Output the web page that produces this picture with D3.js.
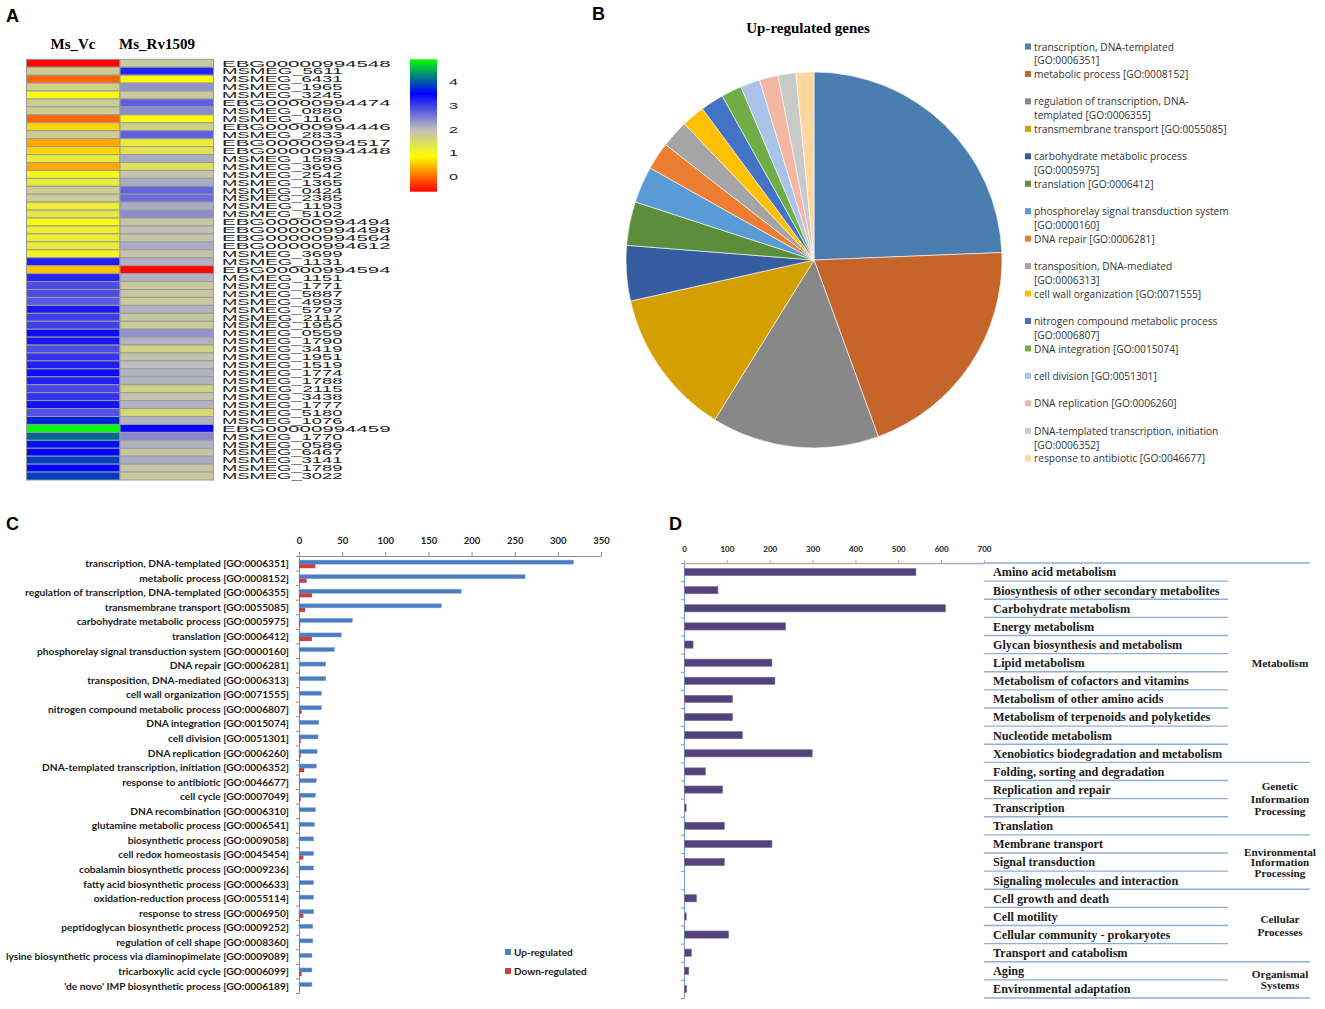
<!DOCTYPE html>
<html>
<head>
<meta charset="utf-8">
<script src="https://cdn.jsdelivr.net/npm/d3@7"></script>
<style>
  body { margin: 0; background: #fff; }
  svg { display: block; }
</style>
</head>
<body>
<div id="figure"></div>
<script>
// ---- Panel A: heatmap data ----
var geneIds = ["EBG00000994548","MSMEG_5611","MSMEG_6431","MSMEG_1965","MSMEG_3245","EBG00000994474","MSMEG_0880",
  "MSMEG_1166","EBG00000994446","MSMEG_2833","EBG00000994517","EBG00000994448","MSMEG_1583","MSMEG_3696","MSMEG_2542",
  "MSMEG_1365","MSMEG_0424","MSMEG_2385","MSMEG_1193","MSMEG_5102","EBG00000994494","EBG00000994498","EBG00000994564",
  "EBG00000994612","MSMEG_3699","MSMEG_1131","EBG00000994594","MSMEG_1151","MSMEG_1771","MSMEG_5887","MSMEG_4993",
  "MSMEG_5797","MSMEG_2112","MSMEG_1950","MSMEG_0559","MSMEG_1790","MSMEG_3419","MSMEG_1951","MSMEG_1519","MSMEG_1774",
  "MSMEG_1788","MSMEG_2115","MSMEG_3438","MSMEG_1777","MSMEG_5180","MSMEG_1076","EBG00000994459","MSMEG_1770",
  "MSMEG_0586","MSMEG_6467","MSMEG_3141","MSMEG_1789","MSMEG_3022"];
var msVc = [-0.6,1.75,-0.05,1.65,0.95,1.75,1.75,-0.05,0.6,1.75,0.35,0.6,1.2,0.35,1.0,1.2,1.75,1.75,1.15,1.3,0.95,1.15,1.15,
  1.2,1.05,3.25,0.5,3.2,2.9,2.9,2.8,3.3,3.0,3.0,3.4,3.3,2.9,3.1,3.25,3.4,3.25,2.95,3.1,3.35,2.85,3.7,4.95,4.1,3.6,3.5,3.85,3.45,3.85];
var msRv1509 = [1.8,3.2,0.9,2.35,1.8,2.75,2.4,0.95,1.7,2.75,1.2,1.35,2.15,1.4,1.9,2.15,2.7,2.65,2.15,2.4,1.85,1.95,1.9,
  2.15,1.9,2.1,-0.6,2.1,1.8,1.85,1.8,2.1,1.85,1.75,2.35,2.1,1.65,1.9,2.0,2.1,2.1,1.65,1.9,2.1,1.55,2.1,3.45,2.45,2.1,1.85,2.15,1.85,1.8];
var heatColumns = ["Ms_Vc", "Ms_Rv1509"];
var heatTicks = [0, 1, 2, 3, 4];

// ---- Panel C (and B): GO terms ----
var goTerms = ["transcription, DNA-templated [GO:0006351]","metabolic process [GO:0008152]",
  "regulation of transcription, DNA-templated [GO:0006355]","transmembrane transport [GO:0055085]",
  "carbohydrate metabolic process [GO:0005975]","translation [GO:0006412]",
  "phosphorelay signal transduction system [GO:0000160]","DNA repair [GO:0006281]",
  "transposition, DNA-mediated [GO:0006313]","cell wall organization [GO:0071555]",
  "nitrogen compound metabolic process [GO:0006807]","DNA integration [GO:0015074]","cell division [GO:0051301]",
  "DNA replication [GO:0006260]","DNA-templated transcription, initiation [GO:0006352]",
  "response to antibiotic [GO:0046677]","cell cycle [GO:0007049]","DNA recombination [GO:0006310]",
  "glutamine metabolic process [GO:0006541]","biosynthetic process [GO:0009058]","cell redox homeostasis [GO:0045454]",
  "cobalamin biosynthetic process [GO:0009236]","fatty acid biosynthetic process [GO:0006633]",
  "oxidation-reduction process [GO:0055114]","response to stress [GO:0006950]",
  "peptidoglycan biosynthetic process [GO:0009252]","regulation of cell shape [GO:0008360]",
  "lysine biosynthetic process via diaminopimelate [GO:0009089]","tricarboxylic acid cycle [GO:0006099]",
  "'de novo' IMP biosynthetic process [GO:0006189]"];
var upRegulated = [318,262,188,165,62,49,41,31,31,26,26,23,22,21,20,20,19,19,18,17,17,17,17,17,17,16,16,15,15,15];
var downRegulated = [19,9,15,7,1.5,15,0,0,0,0,3,0,2,2,6,1,2,0,1,0,5,1,1,0,5,0,1,0,3,1];
var pieCount = 16;

// ---- Panel D: KEGG pathways ----
var keggPathways = ["Amino acid metabolism","Biosynthesis of other secondary metabolites","Carbohydrate metabolism",
  "Energy metabolism","Glycan biosynthesis and metabolism","Lipid metabolism","Metabolism of cofactors and vitamins",
  "Metabolism of other amino acids","Metabolism of terpenoids and polyketides","Nucleotide metabolism",
  "Xenobiotics biodegradation and metabolism","Folding, sorting and degradation","Replication and repair",
  "Transcription","Translation","Membrane transport","Signal transduction","Signaling molecules and interaction",
  "Cell growth and death","Cell motility","Cellular community - prokaryotes","Transport and catabolism","Aging",
  "Environmental adaptation"];
var keggCounts = [540,78,609,236,20,204,211,112,112,135,298,49,89,4,93,204,93,0,28,4,103,16,10,5];
var keggGroups = ["Metabolism","Genetic Information Processing","Environmental Information Processing",
  "Cellular Processes","Organismal Systems"];
var keggGroupSizes = [11, 4, 3, 4, 2];

var pieColors = ["#4a7eb0","#c5652a","#888888","#d4a000","#355d9f","#5b8e3b","#5b9bd5","#ed7d31",
  "#a5a5a5","#ffc000","#4472c4","#70ad47","#a9c4e8","#f4b7a3","#c9c9c9","#ffd79e"];

var svg = d3.select("#figure")
  .append("svg")
  .attr("width", 1325)
  .attr("height", 1009);

// panel letters
[["A", 6, 22], ["B", 592, 20], ["C", 6, 530], ["D", 669, 530]].forEach(function(p) {
  svg.append("text")
    .attr("x", p[1]).attr("y", p[2])
    .attr("font-family", "Liberation Sans, Arial, sans-serif")
    .attr("font-weight", "bold")
    .attr("font-size", 18)
    .text(p[0]);
});

// ===================== Panel A =====================
var heatY = d3.scaleBand().domain(geneIds).range([59.3, 480]);
var heatX = d3.scaleBand().domain(heatColumns).range([26.5, 213.5]);
var heatColor = d3.scaleLinear()
  .domain([-0.63, 0.85, 2, 3.5, 4.95])
  .range(["#ff0000", "#ffff00", "#bebebe", "#0000ff", "#00ff00"])
  .clamp(true);

var panelA = svg.append("g");

// headers sit a little left of the column centres
var headerX = {"Ms_Vc": 73, "Ms_Rv1509": 157};
panelA.selectAll("text.colhead")
  .data(heatColumns)
  .enter()
  .append("text")
  .attr("class", "colhead")
  .attr("x", d => headerX[d])
  .attr("y", 49)
  .attr("text-anchor", "middle")
  .attr("font-family", "Liberation Serif, Times New Roman, serif")
  .attr("font-weight", "bold")
  .attr("font-size", 15)
  .text(d => d);

var cells = [];
geneIds.forEach(function(g, i) {
  cells.push({gene: g, col: "Ms_Vc", value: msVc[i]});
  cells.push({gene: g, col: "Ms_Rv1509", value: msRv1509[i]});
});

panelA.selectAll("rect.cell")
  .data(cells)
  .enter()
  .append("rect")
  .attr("class", "cell")
  .attr("x", d => heatX(d.col))
  .attr("y", d => heatY(d.gene))
  .attr("width", heatX.bandwidth())
  .attr("height", heatY.bandwidth())
  .attr("fill", d => heatColor(d.value))
  .attr("stroke", "#9a9a9a")
  .attr("stroke-width", 1);

panelA.selectAll("text.gene")
  .data(geneIds)
  .enter()
  .append("text")
  .attr("class", "gene")
  .attr("x", 222)
  .attr("y", d => heatY(d) + heatY.bandwidth() / 2)
  .attr("dy", "0.36em")
  .attr("font-family", "Liberation Sans, Arial, sans-serif")
  .attr("font-size", 9)
  .attr("fill", "#222")
  .attr("textLength", d => d.length * 12.05)
  .attr("lengthAdjust", "spacingAndGlyphs")
  .text(d => d);

// colour key
var cbScale = d3.scaleLinear().domain([-0.63, 4.95]).range([191.7, 59.3]);
var grad = svg.append("defs").append("linearGradient")
  .attr("id", "heatGrad")
  .attr("x1", 0).attr("y1", 1).attr("x2", 0).attr("y2", 0);
grad.selectAll("stop")
  .data(d3.range(0, 1.0001, 0.02))
  .enter()
  .append("stop")
  .attr("offset", d => d)
  .attr("stop-color", d => heatColor(-0.63 + d * (4.95 + 0.63)));

panelA.append("rect")
  .attr("x", 410)
  .attr("y", cbScale(4.95))
  .attr("width", 27)
  .attr("height", cbScale(-0.63) - cbScale(4.95))
  .attr("fill", "url(#heatGrad)");

panelA.selectAll("text.cbtick")
  .data(heatTicks)
  .enter()
  .append("text")
  .attr("class", "cbtick")
  .attr("x", 449)
  .attr("y", d => cbScale(d))
  .attr("dy", "0.36em")
  .attr("font-family", "Liberation Sans, Arial, sans-serif")
  .attr("font-size", 9)
  .attr("fill", "#222")
  .attr("textLength", 9)
  .attr("lengthAdjust", "spacingAndGlyphs")
  .text(d => d);

// ===================== Panel B =====================
var pieData = goTerms.slice(0, pieCount).map(function(t, i) {
  return {term: t, value: upRegulated[i]};
});
var pie = d3.pie().sort(null).value(d => d.value);
var arc = d3.arc().innerRadius(0).outerRadius(188);

svg.append("text")
  .attr("x", 808)
  .attr("y", 33)
  .attr("text-anchor", "middle")
  .attr("font-family", "Liberation Serif, Times New Roman, serif")
  .attr("font-weight", "bold")
  .attr("font-size", 15)
  .text("Up-regulated genes");

var pieGroup = svg.append("g")
  .attr("transform", "translate(814, 260)");

pieGroup.selectAll("path")
  .data(pie(pieData))
  .enter()
  .append("path")
  .attr("d", arc)
  .attr("fill", (d, i) => pieColors[i])
  .attr("stroke", "#fff")
  .attr("stroke-width", 0.6);

// legend with wrapped labels
var legendB = svg.append("g");
var legendFont = "Open Sans, Noto Sans, sans-serif";
var legendSize = 10.2;
var measure = svg.append("text")
  .attr("font-family", legendFont)
  .attr("font-size", legendSize)
  .attr("visibility", "hidden");

function wrapLabel(label, maxW) {
  var tokens = label.match(/[^ -]+-?/g);
  var lines = [];
  var line = "";
  tokens.forEach(function(tok) {
    var joined = line == "" ? tok : (line.slice(-1) == "-" ? line + tok : line + " " + tok);
    measure.text(joined);
    if (line != "" && measure.node().getComputedTextLength() > maxW) {
      lines.push(line);
      line = tok;
    } else {
      line = joined;
    }
  });
  lines.push(line);
  return lines;
}

pieData.forEach(function(d, i) {
  var y0 = 47 + i * 27.45;
  legendB.append("rect")
    .attr("x", 1025)
    .attr("y", y0 - 3.5)
    .attr("width", 6)
    .attr("height", 6)
    .attr("fill", pieColors[i]);
  var lines = wrapLabel(d.term, 196);
  lines.forEach(function(l, j) {
    legendB.append("text")
      .attr("x", 1034)
      .attr("y", y0 + j * 13.8)
      .attr("dy", "0.35em")
      .attr("font-family", legendFont)
      .attr("font-size", legendSize)
      .attr("fill", "#333")
      .text(l);
  });
});
measure.remove();

// ===================== Panel C =====================
var cX = d3.scaleLinear().domain([0, 350]).range([299, 601]);
var cY = d3.scaleBand().domain(goTerms).range([556, 993]);
var cBw = cY.bandwidth();
var panelC = svg.append("g");
var cFont = "Lato, Open Sans, sans-serif";

var topAxisC = panelC.append("g")
  .attr("transform", "translate(0, 556)")
  .call(d3.axisTop(cX).tickValues(d3.range(0, 351, 50)).tickSize(4).tickSizeOuter(0).tickPadding(8));
topAxisC.select(".domain").attr("stroke", "#8c8c8c");
topAxisC.selectAll(".tick line").attr("stroke", "#8c8c8c");
topAxisC.selectAll(".tick text")
  .attr("font-family", cFont)
  .attr("font-weight", "bold")
  .attr("font-size", 9.5)
  .attr("fill", "#222");

var cYLin = d3.scaleLinear().domain([0, goTerms.length]).range([556, 993]);
var leftAxisC = panelC.append("g")
  .attr("transform", "translate(299, 0)")
  .call(d3.axisLeft(cYLin).tickValues(d3.range(0, goTerms.length + 1)).tickFormat("").tickSize(3).tickSizeOuter(0));
leftAxisC.select(".domain").attr("stroke", "#8c8c8c");
leftAxisC.selectAll(".tick line").attr("stroke", "#8c8c8c");

panelC.selectAll("rect.up")
  .data(goTerms)
  .enter()
  .append("rect")
  .attr("class", "up")
  .attr("x", cX(0))
  .attr("y", d => cY(d) + cBw * 0.28)
  .attr("width", (d, i) => cX(upRegulated[i]) - cX(0))
  .attr("height", cBw * 0.28)
  .attr("fill", "#4a7ec0")
  .attr("stroke", "#7fa6d8")
  .attr("stroke-width", 0.5);

panelC.selectAll("rect.down")
  .data(goTerms)
  .enter()
  .append("rect")
  .attr("class", "down")
  .attr("x", cX(0))
  .attr("y", d => cY(d) + cBw * 0.56)
  .attr("width", (d, i) => cX(downRegulated[i]) - cX(0))
  .attr("height", cBw * 0.28)
  .attr("fill", "#c9403d");

panelC.selectAll("text.term")
  .data(goTerms)
  .enter()
  .append("text")
  .attr("class", "term")
  .attr("x", 289)
  .attr("y", d => cY(d) + cBw / 2)
  .attr("dy", "0.38em")
  .attr("text-anchor", "end")
  .attr("font-family", cFont)
  .attr("font-weight", "bold")
  .attr("font-size", 10.2)
  .attr("fill", "#1a1a1a")
  .text(d => d);

var legendC = [["Up-regulated", "#4a7ec0", 952], ["Down-regulated", "#c9403d", 971]];
legendC.forEach(function(l) {
  panelC.append("rect")
    .attr("x", 505).attr("y", l[2] - 3)
    .attr("width", 6).attr("height", 6)
    .attr("fill", l[1]);
  panelC.append("text")
    .attr("x", 514).attr("y", l[2])
    .attr("dy", "0.36em")
    .attr("font-family", cFont)
    .attr("font-weight", "bold")
    .attr("font-size", 10)
    .attr("fill", "#1a1a1a")
    .text(l[0]);
});

// ===================== Panel D =====================
var dX = d3.scaleLinear().domain([0, 700]).range([684, 984]);
var dY = d3.scaleBand().domain(keggPathways).range([563, 998]);
var dBw = dY.bandwidth();
var panelD = svg.append("g");
var lineBlue = "#8eaedb";
var dFont = "Liberation Serif, Times New Roman, serif";

var topAxisD = panelD.append("g")
  .attr("transform", "translate(0, 563)")
  .call(d3.axisTop(dX).tickValues(d3.range(0, 701, 100)).tickSize(3).tickSizeOuter(0).tickPadding(8));
topAxisD.select(".domain").attr("stroke", "#b0b0b0").attr("stroke-width", 1.5);
topAxisD.selectAll(".tick line").attr("stroke", "#b0b0b0");
topAxisD.selectAll(".tick text")
  .attr("font-family", cFont)
  .attr("font-weight", "bold")
  .attr("font-size", 8)
  .attr("fill", "#222");

var dYLin = d3.scaleLinear().domain([0, keggPathways.length]).range([563, 998]);
var leftAxisD = panelD.append("g")
  .attr("transform", "translate(684, 0)")
  .call(d3.axisLeft(dYLin).tickValues(d3.range(0, keggPathways.length + 1)).tickFormat("").tickSize(3).tickSizeOuter(0));
leftAxisD.select(".domain").attr("stroke", "#6d9bd6");
leftAxisD.selectAll(".tick line").attr("stroke", "#6d9bd6");

panelD.selectAll("rect.kegg")
  .data(keggPathways)
  .enter()
  .append("rect")
  .attr("class", "kegg")
  .attr("x", dX(0) + 0.5)
  .attr("y", d => dY(d) + dBw / 2 - 3.6)
  .attr("width", (d, i) => Math.max(0, dX(keggCounts[i]) - dX(0)))
  .attr("height", 7.2)
  .attr("fill", "#54437a")
  .attr("stroke", "#7d6fa0")
  .attr("stroke-width", 0.6);

// table rules: group boundaries span the group column too
var groupEdges = [0];
keggGroupSizes.forEach(function(n, i) { groupEdges.push(groupEdges[i] + n); });
d3.range(0, keggPathways.length + 1).forEach(function(k) {
  var isGroup = groupEdges.indexOf(k) >= 0;
  panelD.append("line")
    .attr("x1", 984)
    .attr("x2", isGroup ? 1310 : 1228)
    .attr("y1", dYLin(k))
    .attr("y2", dYLin(k))
    .attr("stroke", lineBlue)
    .attr("stroke-width", 1.3);
});

panelD.selectAll("text.path")
  .data(keggPathways)
  .enter()
  .append("text")
  .attr("class", "path")
  .attr("x", 993)
  .attr("y", d => dY(d) + dBw / 2)
  .attr("dy", "0.36em")
  .attr("font-family", dFont)
  .attr("font-weight", "bold")
  .attr("font-size", 12.2)
  .attr("fill", "#1a1a1a")
  .text(d => d);

var groupLineGap = [12.5, 12.5, 10.5, 12.5, 11];
keggGroups.forEach(function(g, i) {
  var words = g.split(" ");
  var yMid = (dYLin(groupEdges[i]) + dYLin(groupEdges[i + 1])) / 2;
  words.forEach(function(w, j) {
    panelD.append("text")
      .attr("x", 1280)
      .attr("y", yMid + (j - (words.length - 1) / 2) * groupLineGap[i])
      .attr("dy", "0.36em")
      .attr("text-anchor", "middle")
      .attr("font-family", dFont)
      .attr("font-weight", "bold")
      .attr("font-size", 11.2)
      .attr("fill", "#1a1a1a")
      .text(w);
  });
});
</script>
</body>
</html>
